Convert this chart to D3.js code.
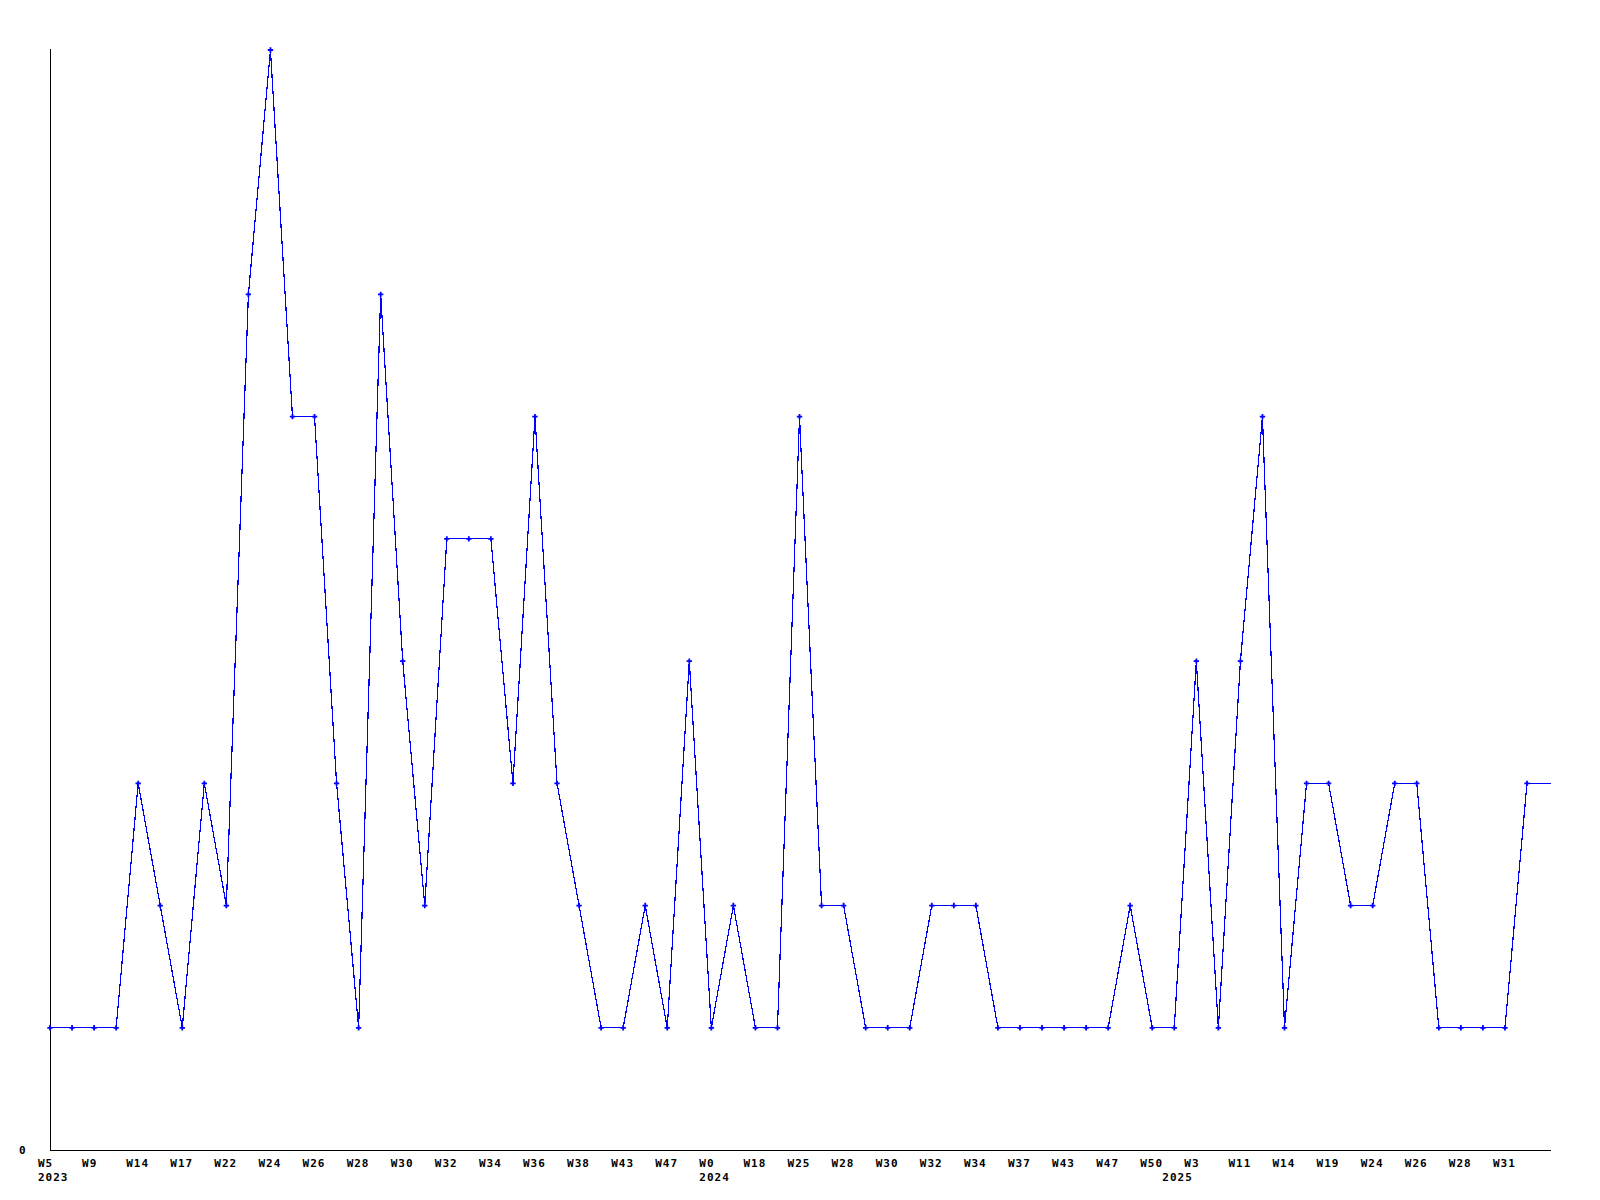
<!DOCTYPE html>
<html>
<head>
<meta charset="utf-8">
<script src="https://cdn.jsdelivr.net/npm/d3@7"></script>
<style>
  html, body { margin: 0; padding: 0; background: #fff; }
  svg text { font-family: "DejaVu Sans Mono", monospace; font-weight: bold; font-size: 11px; letter-spacing: 1px; fill: #000; }
</style>
</head>
<body>
<svg id="chart" width="1600" height="1200"></svg>
<script>
// Values per data point (68 entries)
const values = [
  1, 1, 1, 1, 3, 2, 1, 3, 2, 7,
  9, 6, 6, 3, 1, 7, 4, 2, 5, 5,
  5, 3, 6, 3, 2, 1, 1, 2, 1, 4,
  1, 2, 1, 1, 6, 2, 2, 1, 1, 1,
  2, 2, 2, 1, 1, 1, 1, 1, 1, 2,
  1, 1, 4, 1, 4, 6, 1, 3, 3, 2,
  2, 3, 3, 1, 1, 1, 1, 3
];
// Tick labels, one for every second data point
const tickLabels = [
  "W5", "W9", "W14", "W17", "W22", "W24", "W26", "W28", "W30", "W32",
  "W34", "W36", "W38", "W43", "W47", "W0", "W18", "W25", "W28", "W30",
  "W32", "W34", "W37", "W43", "W47", "W50", "W3", "W11", "W14", "W19",
  "W24", "W26", "W28", "W31"
];
// Year labels with the index of the data point where each year begins
const yearLabels = ["2023", "2024", "2025"];
const yearIndex = [0, 30, 51];
const yTickLabels = ["0"];

const svg = d3.select("#chart");
const n = values.length;
const x = d3.scaleLinear().domain([0, n - 1]).range([50, 1527]);
const xEnd = x(68.1);
const y = d3.scaleLinear().domain([0, 9]).range([1150, 50]);

// axes
svg.append("line").attr("x1", x(0)).attr("x2", x(0)).attr("y1", y(9) - 1).attr("y2", y(0))
  .attr("stroke", "#000").attr("stroke-width", 1).attr("shape-rendering", "crispEdges");
svg.append("line").attr("x1", x(0)).attr("x2", xEnd).attr("y1", y(0)).attr("y2", y(0))
  .attr("stroke", "#000").attr("stroke-width", 1).attr("shape-rendering", "crispEdges");

svg.append("text").attr("x", 19).attr("y", y(0) + 4).text(yTickLabels[0]);

// x tick labels
svg.selectAll("text.tick").data(tickLabels).enter().append("text")
  .attr("class", "tick")
  .attr("x", (d, i) => x(i * 2) - 12)
  .attr("y", 1167)
  .text(d => d);

svg.selectAll("text.year").data(yearLabels).enter().append("text")
  .attr("class", "year")
  .attr("x", (d, i) => x(yearIndex[i]) - 12)
  .attr("y", 1181)
  .text(d => d);

// line
const pts = values.map((v, i) => [x(i), y(v)]);
pts.push([xEnd, y(values[n - 1])]);
svg.append("path")
  .attr("d", d3.line()(pts))
  .attr("fill", "none")
  .attr("stroke", "#0000ff")
  .attr("stroke-width", 1.2)
  .attr("shape-rendering", "crispEdges");

// markers
const sym = d3.symbol().type(d3.symbolCross).size(16);
svg.selectAll("path.mk").data(values).enter().append("path")
  .attr("class", "mk")
  .attr("transform", (d, i) => `translate(${x(i)},${y(d)})`)
  .attr("d", sym)
  .attr("fill", "#0000ff");
</script>
</body>
</html>
